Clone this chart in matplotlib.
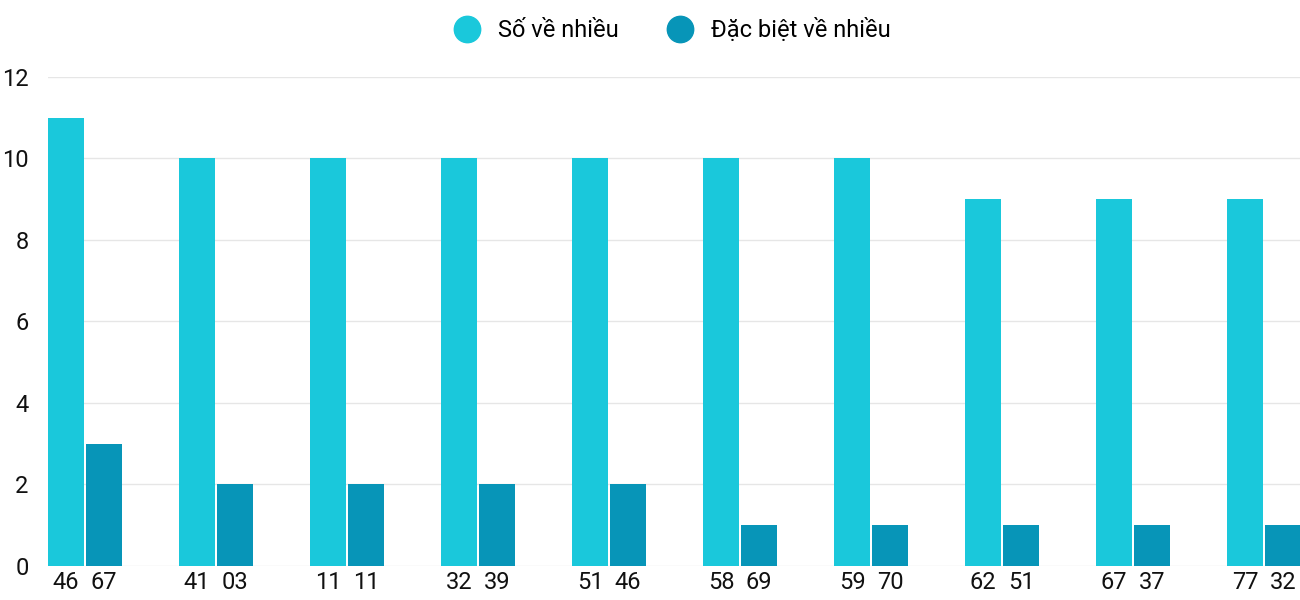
import matplotlib
matplotlib.use("Agg")
import matplotlib.pyplot as plt
import numpy as np
from matplotlib.lines import Line2D

plt.rcParams['font.family'] = ['Roboto', 'DejaVu Sans']

labels1 = ["46", "41", "11", "32", "51", "58", "59", "62", "67", "77"]
labels2 = ["67", "03", "11", "39", "46", "69", "70", "51", "37", "32"]
so_ve_nhieu = [11, 10, 10, 10, 10, 10, 10, 9, 9, 9]
dac_biet = [3, 2, 2, 2, 2, 1, 1, 1, 1, 1]
series_names = ["Số về nhiều", "Đặc biệt về nhiều"]
c1, c2 = "#1AC8DB", "#0795B8"

fig = plt.figure(figsize=(13, 6), dpi=100)
ax = fig.add_axes([0.037, 0.057, 0.963, 0.815])
x = np.arange(len(labels1))
off, w = 0.145, 0.275
ax.bar(x - off, so_ve_nhieu, w, color=c1, zorder=3)
ax.bar(x + off, dac_biet, w, color=c2, zorder=3)
ax.set_xlim(-0.282, 9.275)
ax.set_ylim(0, 12)
ax.set_yticks(range(0, 13, 2))
ax.set_xticks(np.concatenate([x - off, x + off]))
ax.set_xticklabels(labels1 + labels2)
ax.tick_params(axis='both', length=0, labelsize=17, colors="#111111")
ax.tick_params(axis='x', pad=4)
ax.tick_params(axis='y', pad=14)
ax.grid(axis='y', color="#e6e6e6", lw=1, zorder=0)
for s in ax.spines.values():
    s.set_visible(False)
handles = [Line2D([], [], marker='o', ls='', ms=19, color=c) for c in (c1, c2)]
fig.legend(handles, series_names, loc='upper center', bbox_to_anchor=(0.513, 1.005),
           ncol=2, frameon=False, fontsize=17, handletextpad=0.3, columnspacing=1.6)
fig.savefig("out.png")
